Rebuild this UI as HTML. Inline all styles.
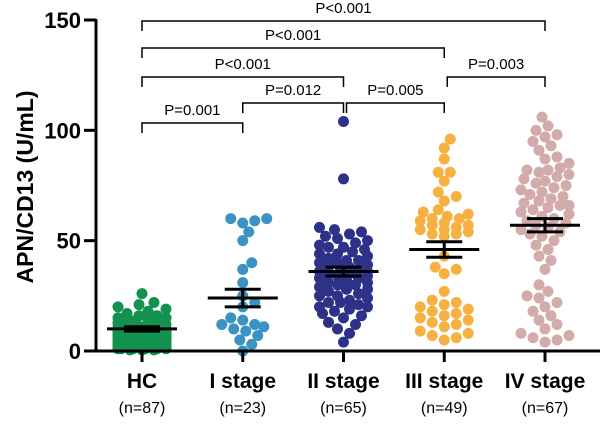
<!DOCTYPE html>
<html><head><meta charset="utf-8"><style>
body{margin:0;background:#fff;}
svg{display:block;font-family:"Liberation Sans",Arial,sans-serif;}
</style></head><body>
<svg id="chart" width="600" height="424">
<g id="marks"></g>
<g id="bars"></g>
<g id="axes"></g>
<g id="sig"></g>
</svg>
<script>
const categories = ["HC","I stage","II stage","III stage","IV stage"];
const counts = ["(n=87)","(n=23)","(n=65)","(n=49)","(n=67)"];
const colors = ["#12914f","#3a93c3","#2d3288","#f6b142","#d3abab"];
const yTicks = [0,50,100,150];
const means = [10,24,36,46,57];
const sems = [1,4,2,3.5,3];
const hcValues = [26,22,21,20,19,18,17,16,16,15,15,14,14,13,13,13,12,12,12,11,11,11,10,10,10,10,9,9,9,9,8,8,8,8,7,7,7,7,6,6,6,6,5,5,5,5,5,4,4,4,4,4,3,3,3,3,3,2,2,2,2,2,1,1,1,1,1,0.5,0.5,0.5,12,10,8,6,4,2,14,9,7,3,1,11,13,5,15,6,8];
const stage1Values = [60,60,59,58,54,50,40,37,31,25,22,20,15,14,12,12,11,10,9,7,5,3,0];
const stage2Values = [104,78,56,55,54,53,52,51,50,49,48,47,47,46,45,44,44,43,42,41,41,40,40,39,38,38,37,37,36,36,35,35,34,34,33,33,32,31,31,30,30,29,28,28,27,26,25,25,24,23,22,22,21,20,20,19,18,17,16,15,13,12,10,8,4];
const stage3Values = [96,92,87,81,81,77,72,70,68,64,63,62,61,60,60,59,58,57,57,56,55,55,54,53,53,52,43,38,37,35,27,23,22,21,20,19,18,17,16,15,14,13,12,11,9,8,7,6,5];
const stage4Values = [106,102,100,98,97,95,93,91,88,87,85,83,82,82,81,80,79,78,77,76,75,74,73,72,71,70,69,68,67,66,66,65,64,63,62,61,60,59,58,57,56,55,54,53,52,50,48,46,43,41,37,30,27,25,24,22,20,18,16,14,12,10,8,7,6,4,5];
const groups = [hcValues,stage1Values,stage2Values,stage3Values,stage4Values];
const brackets = [[0,4,"P<0.001",21],[0,3,"P<0.001",48],[0,2,"P<0.001",77],[3,4,"P=0.003",77],[1,2,"P=0.012",103],[2,3,"P=0.005",103],[0,1,"P=0.001",123]];

const NS="http://www.w3.org/2000/svg";
const x0=142, xStep=100.75;
function xs(i){return x0+i*xStep;}
function ys(v){return 351 - v*(331/150);}
function mk(t,attrs,parent){const e=document.createElementNS(NS,t);for(const k in attrs)e.setAttribute(k,attrs[k]);parent.appendChild(e);return e;}
const marks=document.getElementById('marks'),bars=document.getElementById('bars'),axes=document.getElementById('axes'),sig=document.getElementById('sig');

const R=5.5, CAP=24;
groups.forEach((vals,gi)=>{
  const placed=[];
  const sorted=vals.slice().sort((a,b)=>a-b);
  sorted.forEach((v,idx)=>{
    const y=ys(v);
    const cands=[0];
    for(let k=1;k*3<=CAP;k++){cands.push(k*3,-k*3);}
    let best=0,bestScore=Infinity;
    for(const c of cands){
      let s=0;
      placed.forEach(p=>{const d=Math.hypot(p[0]-c,p[1]-y);if(d<2*R-0.5)s+=(2*R-d);});
      s+=Math.abs(c)*0.01;
      if(s<bestScore){bestScore=s;best=c;}
    }
    placed.push([best,y]);
    const c=mk('circle',{cx:xs(gi)+best,cy:y,r:R,fill:colors[gi]},marks);
    
    
  });
});

means.forEach((m,gi)=>{
  const cx=xs(gi);
  const g=mk('g',{stroke:'#000','stroke-width':3},bars);
  
  
  mk('line',{x1:cx-35,x2:cx+35,y1:ys(m),y2:ys(m)},g);
  mk('line',{x1:cx-18,x2:cx+18,y1:ys(m+sems[gi]),y2:ys(m+sems[gi])},g);
  mk('line',{x1:cx-18,x2:cx+18,y1:ys(m-sems[gi]),y2:ys(m-sems[gi])},g);
  mk('line',{x1:cx,x2:cx,y1:ys(m+sems[gi]),y2:ys(m-sems[gi])},g);
});

mk('line',{x1:96,x2:96,y1:19,y2:352,stroke:'#000','stroke-width':3},axes);
mk('line',{x1:95,x2:600,y1:351,y2:351,stroke:'#000','stroke-width':3},axes);
yTicks.forEach(t=>{
  mk('line',{x1:84,x2:96,y1:ys(t),y2:ys(t),stroke:'#000','stroke-width':3},axes);
  const tx=mk('text',{x:81,y:ys(t)+8,'text-anchor':'end','font-size':22,'font-weight':'bold'},axes);
  tx.textContent=t;
  
  
});
categories.forEach((c,i)=>{
  mk('line',{x1:xs(i),x2:xs(i),y1:351,y2:362,stroke:'#000','stroke-width':3},axes);
  const t=mk('text',{x:xs(i),y:388,'text-anchor':'middle','font-size':21,'font-weight':'bold'},axes);
  t.textContent=c;
  
  
  const n=mk('text',{x:xs(i),y:413,'text-anchor':'middle','font-size':16},axes);
  n.textContent=counts[i];
  
  
});
const yt=mk('text',{x:0,y:0,transform:'translate(33,187) rotate(-90)','text-anchor':'middle','font-size':23,'font-weight':'bold'},axes);
yt.textContent='APN/CD13 (U/mL)';



brackets.forEach(b=>{
  const [a,c,label,y]=b;
  let xa=xs(a),xc=xs(c);
  if(a===2) xa+=3;
  if(a===3 && c===4) xa+=3;
  const g=mk('g',{},sig);
  
  
  mk('path',{d:`M${xa},${y+10}V${y}H${xc}V${y+10}`,fill:'none',stroke:'#000','stroke-width':1.5},g);
  const t=mk('text',{x:(xa+xc)/2,y:y-8,'text-anchor':'middle','font-size':15},g);
  t.textContent=label;
});
</script>
</body></html>
